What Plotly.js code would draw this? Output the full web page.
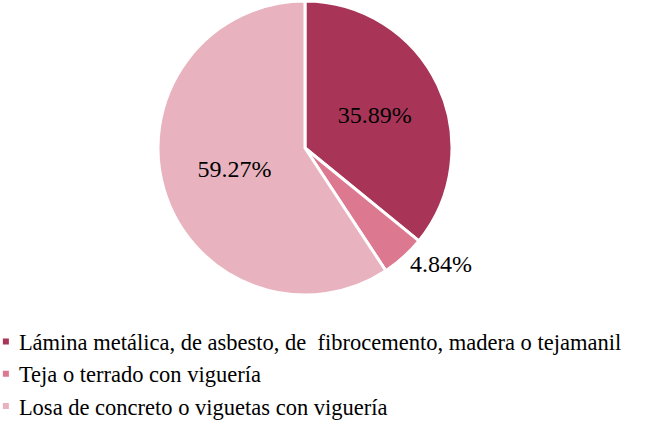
<!DOCTYPE html>
<html><head><meta charset="utf-8">
<script src="https://cdn.plot.ly/plotly-3.0.1.min.js"></script>
<style>
body{margin:0;padding:0;background:#fff}
#chart{width:660px;height:421px}
#chart text{font-family:"Liberation Serif","Times New Roman",Tinos,"DejaVu Serif",serif !important}
</style>
</head><body><div id="chart"></div>
<script>
const categories = [
  "Lámina metálica, de asbesto, de \u00A0fibrocemento, madera o tejamanil",
  "Teja o terrado con viguería",
  "Losa de concreto o viguetas con viguería"
];
const values = [35.89, 4.84, 59.27];
const colors = ["#A83558", "#DC7890", "#E8B3BF"];
const positions = ["inside", "outside", "inside"];

const SERIF = "Liberation Serif, Times New Roman, serif";

const trace = {
  type: "pie",
  labels: categories,
  values: values,
  sort: false,
  direction: "clockwise",
  rotation: 0,
  marker: {colors: colors, line: {color: "#ffffff", width: 3}},
  texttemplate: "%{value:.2f}%",
  textposition: positions,
  insidetextorientation: "horizontal",
  textfont: {family: SERIF, size: 24, color: "#000"},
  outsidetextfont: {family: SERIF, size: 24, color: "#000"},
  insidetextfont: {family: SERIF, size: 24, color: "#000"},
  hoverinfo: "label+percent",
  domain: {x: [0.2394, 0.6848], y: [0.2993, 0.9976]},
  automargin: false
};

const layout = {
  width: 660, height: 421,
  margin: {l: 0, r: 0, t: 0, b: 0, autoexpand: false},
  paper_bgcolor: "#fff",
  font: {family: SERIF},
  showlegend: true,
  legend: {
    orientation: "v", x: -0.032, xanchor: "left", y: -0.015, yanchor: "bottom",
    font: {family: SERIF, size: 22.5, color: "#000"},
    bgcolor: "rgba(0,0,0,0)", itemclick: false, itemdoubleclick: false
  }
};
Plotly.newPlot("chart", [trace], layout, {displayModeBar: false, staticPlot: true}).then(function (gd) {
  // small square legend keys just left of the text, as in the reference
  gd.querySelectorAll(".legendpie").forEach(function (p) {
    p.setAttribute("d", "M3,3H-3V-3H3Z");
    p.setAttribute("transform", "translate(27,0)");
    p.style.strokeWidth = "0";
  });
});
</script></body></html>
